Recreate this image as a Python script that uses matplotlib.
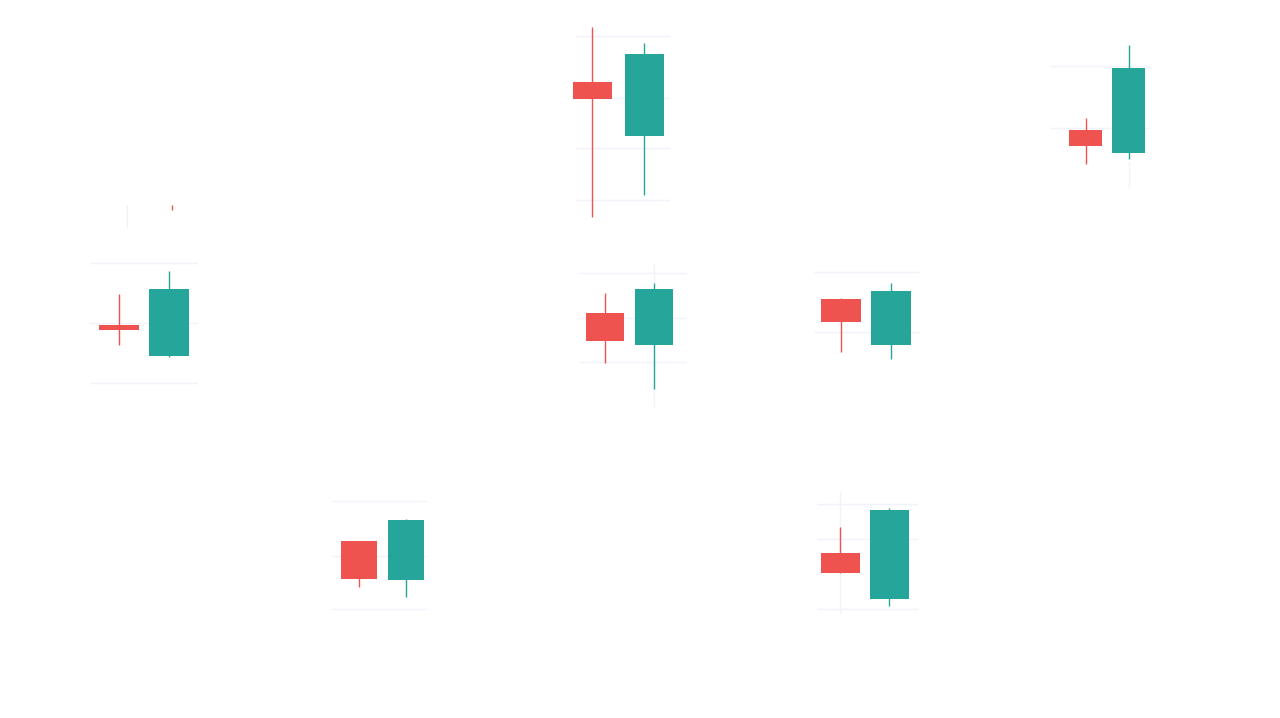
import matplotlib
matplotlib.use("Agg")
import matplotlib.pyplot as plt

# --- data: 7 mini candlestick panels, 2 candles each (bear, bull) ---
panel_names = ["top_mid", "top_right", "mid_left", "mid_center", "mid_right", "bot_left", "bot_right"]

opens  = [[113.8, 108.4], [56.0, 53.7], [26.5, 23.4], [49.7, 46.5], [16.6, 12.0], [37.4, 33.5], [66.2, 61.6]]
closes = [[112.1, 116.6], [54.4, 62.2], [26.0, 30.1], [46.9, 52.1], [14.3, 17.4], [33.6, 39.5], [64.2, 70.5]]
highs  = [[119.3, 117.7], [57.2, 64.5], [29.6, 31.9], [51.7, 52.7], [16.7, 18.2], [37.4, 39.6], [68.8, 70.7]]
lows   = [[100.3, 102.5], [52.6, 53.1], [24.5, 23.3], [44.7, 42.1], [11.3, 10.6], [32.8, 31.8], [64.2, 60.9]]

grid_levels = [[118.4, 112.2, 107.2, 102.0], [62.4, 56.2], [32.7, 26.7, 20.7],
               [53.7, 49.2, 44.8], [19.3, 13.3], [41.4, 35.9, 30.6], [71.1, 67.6, 60.6]]
y_ranges = [(99.8, 120.0), (50.0, 65.0), (20.0, 39.0), (40.0, 55.0),
            (10.0, 19.5), (30.0, 42.0), (60.0, 72.7)]

# vertical grid fragments: (panel, candle index, low, high)
vgrid = [(1, 1, 52.8, 50.3), (3, 1, 40.3, 54.7), (6, 0, 60.2, 72.3)]

# --- layout in pixels: left, right, top, bottom, candle centre 1, candle centre 2, body width ---
W, H = 1280, 718
boxes = [(575, 670, 20, 222, 592, 644, 39),
         (1050, 1150, 40, 190, 1085.5, 1128.5, 33),
         (90, 198, 200, 390, 119, 169, 40),
         (579, 687, 260, 410, 605, 654, 38),
         (814, 920, 270, 365, 841, 891, 40),
         (332, 427, 495, 615, 359, 406, 36),
         (817, 918, 488, 615, 840, 889, 39)]

UP, DOWN, GRID = "#26A69A", "#EF5350", "#F0F3FA"

fig = plt.figure(figsize=(W / 100, H / 100), dpi=100)
fig.patch.set_facecolor("white")

axes = []
for i, (x0, x1, y0, y1, c1, c2, bw) in enumerate(boxes):
    ax = fig.add_axes([x0 / W, 1 - y1 / H, (x1 - x0) / W, (y1 - y0) / H])
    d = c2 - c1
    xlim = ((x0 - c1) / d, (x1 - c1) / d)
    ax.set_xlim(*xlim)
    ax.set_ylim(*y_ranges[i])
    ax.axis("off")

    ax.hlines(grid_levels[i], xlim[0], xlim[1], color=GRID, lw=1, zorder=0)
    for j in range(2):
        o, c, h, l = opens[i][j], closes[i][j], highs[i][j], lows[i][j]
        col = UP if c >= o else DOWN
        ax.vlines(j, l, h, color=col, lw=1, zorder=2, clip_on=False)
        ax.bar(j, abs(c - o), bottom=min(o, c), width=bw / d, color=col,
               zorder=3, clip_on=False)
    axes.append(ax)

for p, j, lo, hi in vgrid:
    axes[p].vlines(j, lo, hi, color=GRID, lw=1, zorder=1)

# faint leftovers above the left panel
axes[2].vlines(0.16, 36.2, 38.5, color="#EEF0F5", lw=1, zorder=1)
axes[2].vlines(1.06, 38.0, 38.5, color=DOWN, lw=1, zorder=1)

fig.savefig("out.png", dpi=100, facecolor="white")
